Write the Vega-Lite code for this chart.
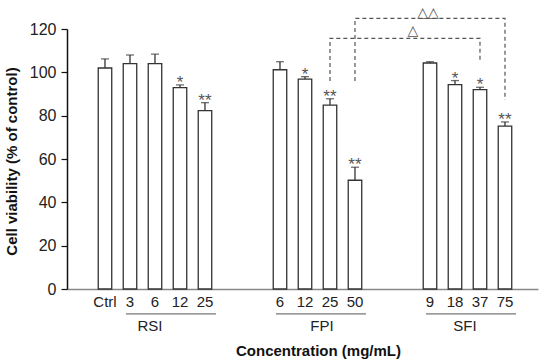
{
  "$schema": "https://vega.github.io/schema/vega-lite/v6.json",
  "autosize": {"type": "none"},
  "width": 471,
  "height": 260,
  "padding": {"left": 67, "top": 29, "right": 4, "bottom": 72},
  "background": "white",
  "config": {
    "view": {"stroke": null},
    "font": "Liberation Sans",
    "text": {"font": "Liberation Sans"}
  },
  "datasets": {
    "bars": [
      {"cat": "Ctrl", "value": 102, "err": 4.2, "sig": ""},
      {"cat": "RSI 3", "value": 104, "err": 4, "sig": ""},
      {"cat": "RSI 6", "value": 104, "err": 4.4, "sig": ""},
      {"cat": "RSI 12", "value": 92.9, "err": 1.3, "sig": "*"},
      {"cat": "RSI 25", "value": 82.3, "err": 3.7, "sig": "**"},
      {"cat": "FPI 6", "value": 101.2, "err": 3.7, "sig": ""},
      {"cat": "FPI 12", "value": 96.9, "err": 1.1, "sig": "*"},
      {"cat": "FPI 25", "value": 84.9, "err": 2.9, "sig": "**"},
      {"cat": "FPI 50", "value": 50.2, "err": 6, "sig": "**"},
      {"cat": "SFI 9", "value": 104.3, "err": 0.6, "sig": ""},
      {"cat": "SFI 18", "value": 94.3, "err": 1.9, "sig": "*"},
      {"cat": "SFI 37", "value": 92, "err": 1.1, "sig": "*"},
      {"cat": "SFI 75", "value": 75.2, "err": 1.9, "sig": "**"}
    ],
    "brackets": [
      {"pair": "inner", "cat": "FPI 25", "y": 96, "step": 1},
      {"pair": "inner", "cat": "FPI 25", "y": 115.7, "step": 2},
      {"pair": "inner", "cat": "SFI 37", "y": 115.7, "step": 3},
      {"pair": "inner", "cat": "SFI 37", "y": 104.6, "step": 4},
      {"pair": "outer", "cat": "FPI 50", "y": 96, "step": 1},
      {"pair": "outer", "cat": "FPI 50", "y": 124.9, "step": 2},
      {"pair": "outer", "cat": "SFI 75", "y": 124.9, "step": 3},
      {"pair": "outer", "cat": "SFI 75", "y": 87.2, "step": 4}
    ],
    "groups": [
      {"group": "RSI", "first": "RSI 3", "last": "RSI 25", "y": -11.5},
      {"group": "FPI", "first": "FPI 6", "last": "FPI 50", "y": -11.5},
      {"group": "SFI", "first": "SFI 9", "last": "SFI 75", "y": -11.5}
    ]
  },
  "encoding": {
    "x": {
      "field": "cat",
      "type": "nominal",
      "sort": null,
      "scale": {
        "domain": ["Ctrl", "RSI 3", "RSI 6", "RSI 12", "RSI 25", "gap1", "gap2", "FPI 6", "FPI 12", "FPI 25", "FPI 50", "gap3", "gap4", "SFI 9", "SFI 18", "SFI 37", "SFI 75"],
        "paddingInner": 0,
        "paddingOuter": 0.92,
        "align": 0.554
      },
      "axis": {
        "title": "Concentration (mg/mL)",
        "titleFont": "Liberation Sans",
        "titleFontSize": 15,
        "titleFontWeight": "bold",
        "titleColor": "#111",
        "titleX": 251,
        "titleY": 66,
        "titleBaseline": "alphabetic",
        "titleAlign": "center",
        "labelExpr": "indexof(datum.label, 'gap') == 0 ? '' : (indexof(datum.label, ' ') > 0 ? split(datum.label, ' ')[1] : datum.label)",
        "labelAngle": 0,
        "labelFont": "Liberation Sans",
        "labelFontSize": 15,
        "labelColor": "#222",
        "labelPadding": 5,
        "ticks": false,
        "tickSize": 0,
        "domainColor": "#888",
        "domainWidth": 1.5,
        "grid": false
      }
    }
  },
  "layer": [
    {
      "data": {"name": "bars"},
      "mark": {"type": "bar", "width": 13.5, "fill": "white", "stroke": "#333", "strokeWidth": 1.3},
      "encoding": {
        "y": {
          "field": "value",
          "type": "quantitative",
          "scale": {"domain": [0, 120], "nice": false},
          "axis": {
            "title": "Cell viability (% of control)",
            "titleFont": "Liberation Sans",
            "titleFontSize": 15,
            "titleFontWeight": "bold",
            "titleColor": "#111",
            "titleX": -56,
            "titleY": 132,
            "titleAngle": -90,
            "titleAlign": "center",
            "titleBaseline": "middle",
            "values": [0, 10, 20, 30, 40, 50, 60, 70, 80, 90, 100, 110, 120],
            "labelExpr": "datum.value % 20 === 0 ? datum.label : ''",
            "labelFont": "Liberation Sans",
            "labelFontSize": 16,
            "labelColor": "#222",
            "labelPadding": 5,
            "tickSize": {"condition": {"test": "datum.value % 20 === 0", "value": 6}, "value": 3.5},
            "tickColor": "#111",
            "tickWidth": 1.2,
            "domainColor": "#111",
            "domainWidth": 1.5,
            "grid": false
          }
        }
      }
    },
    {
      "data": {"name": "bars"},
      "mark": {"type": "rule", "stroke": "#333", "strokeWidth": 1.3},
      "encoding": {
        "y": {"field": "value", "type": "quantitative"},
        "y2": {"field": "top"}
      },
      "transform": [{"calculate": "datum.value + datum.err", "as": "top"}]
    },
    {
      "data": {"name": "bars"},
      "mark": {"type": "tick", "orient": "horizontal", "size": 8, "thickness": 1.3, "color": "#333"},
      "transform": [{"calculate": "datum.value + datum.err", "as": "top"}],
      "encoding": {
        "y": {"field": "top", "type": "quantitative"}
      }
    },
    {
      "data": {"name": "bars"},
      "mark": {"type": "text", "baseline": "alphabetic", "dy": 3, "fontSize": 17, "color": "#555"},
      "transform": [{"calculate": "datum.value + datum.err", "as": "top"}],
      "encoding": {
        "y": {"field": "top", "type": "quantitative"},
        "text": {"field": "sig"}
      }
    },
    {
      "data": {"name": "brackets"},
      "mark": {"type": "line", "stroke": "#555", "strokeWidth": 1.2, "strokeDash": [4, 3]},
      "encoding": {
        "y": {"field": "y", "type": "quantitative"},
        "detail": {"field": "pair"},
        "order": {"field": "step", "type": "quantitative"}
      }
    },
    {
      "data": {"values": [{"cat": "gap4", "y": 119.2, "t": "△"}]},
      "mark": {"type": "text", "font": "DejaVu Sans", "fontSize": 14, "color": "#555", "baseline": "middle", "dx": 8},
      "encoding": {
        "y": {"field": "y", "type": "quantitative"},
        "text": {"field": "t"}
      }
    },
    {
      "data": {"values": [{"cat": "SFI 9", "y": 127.5, "t": "△△"}]},
      "mark": {"type": "text", "font": "DejaVu Sans", "fontSize": 14, "color": "#555", "baseline": "middle", "dx": -2},
      "encoding": {
        "y": {"field": "y", "type": "quantitative"},
        "text": {"field": "t"}
      }
    },
    {
      "data": {"name": "groups"},
      "mark": {"type": "rule", "stroke": "#555", "strokeWidth": 1, "xOffset": -4, "x2Offset": 11},
      "encoding": {
        "x": {"field": "first", "type": "nominal"},
        "x2": {"field": "last"},
        "y": {"field": "y", "type": "quantitative"}
      }
    },
    {
      "data": {"values": [{"cat": "RSI 6", "y": -17.1, "t": "RSI"}]},
      "mark": {"type": "text", "fontSize": 15, "color": "#222", "baseline": "middle", "dx": -5},
      "encoding": {"y": {"field": "y", "type": "quantitative"}, "text": {"field": "t"}}
    },
    {
      "data": {"values": [{"cat": "FPI 25", "y": -17.1, "t": "FPI"}]},
      "mark": {"type": "text", "fontSize": 15, "color": "#222", "baseline": "middle", "dx": -8},
      "encoding": {"y": {"field": "y", "type": "quantitative"}, "text": {"field": "t"}}
    },
    {
      "data": {"values": [{"cat": "SFI 37", "y": -17.1, "t": "SFI"}]},
      "mark": {"type": "text", "fontSize": 15, "color": "#222", "baseline": "middle", "dx": -15},
      "encoding": {"y": {"field": "y", "type": "quantitative"}, "text": {"field": "t"}}
    }
  ]
}
